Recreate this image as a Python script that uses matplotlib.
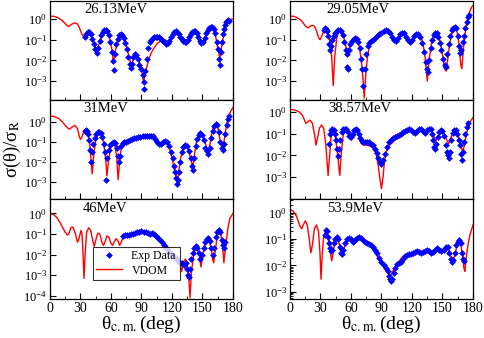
import numpy as np
import matplotlib
matplotlib.use("Agg")
import matplotlib.pyplot as plt
from matplotlib.ticker import LogLocator, MultipleLocator, LogFormatterMathtext

plt.rcParams['font.family'] = ['Liberation Serif', 'DejaVu Serif']
plt.rcParams['mathtext.fontset'] = 'stix'

# ---------------- data (theta in deg, sigma/sigma_R) ----------------
# 26.13 MeV
vdom_26 = [(0, 1.4), (4, 1.35), (8, 1.15), (12, 0.85), (15, 0.6), (17, 0.47), (19, 0.45), (21, 0.55),
           (24, 0.65), (27, 0.58), (29, 0.38), (31, 0.2), (33, 0.14), (35, 0.17), (37, 0.22), (39, 0.2),
           (41, 0.13), (43, 0.07), (45, 0.035), (46, 0.028), (47, 0.035), (49, 0.08), (51, 0.15),
           (53, 0.22), (55, 0.25), (57, 0.2), (59, 0.1), (61, 0.03), (62.5, 0.007), (64, 0.025),
           (66, 0.07), (68, 0.12), (70, 0.14), (72, 0.12), (74, 0.07), (76, 0.035), (78, 0.013),
           (80, 0.006), (82, 0.011), (84, 0.015), (86, 0.013), (88, 0.008), (90, 0.0035), (92, 0.0009),
           (94, 0.0025), (96, 0.007), (98, 0.015), (100, 0.025), (103, 0.045), (106, 0.07), (109, 0.085),
           (112, 0.08), (114, 0.065), (116, 0.06), (118, 0.08), (120, 0.14), (122, 0.22), (124, 0.25),
           (126, 0.2), (128, 0.14), (130, 0.1), (132, 0.08), (134, 0.075), (136, 0.1), (138, 0.16),
           (140, 0.24), (142, 0.27), (144, 0.22), (146, 0.14), (148, 0.08), (149.5, 0.07), (151, 0.09),
           (153, 0.16), (155, 0.28), (157, 0.38), (159, 0.4), (161, 0.3), (163, 0.14), (165, 0.04),
           (167, 0.013), (169, 0.05), (171, 0.2), (173, 0.5), (175, 0.8), (177, 0.95), (180, 1.0)]
exp_26 = [(34, 0.13), (35.5, 0.18), (37, 0.23), (38.5, 0.24), (40, 0.18), (41.5, 0.11), (43, 0.06),
          (44.5, 0.035), (46, 0.024), (47.5, 0.04), (49, 0.09), (50.5, 0.16), (52, 0.23), (53.5, 0.28),
          (55, 0.3), (56.5, 0.26), (58, 0.16), (59.5, 0.08), (61, 0.025), (62, 0.009), (62.5, 0.0035),
          (63.5, 0.02), (65, 0.06), (66.5, 0.11), (68, 0.16), (69.5, 0.18), (71, 0.17), (72.5, 0.12),
          (74, 0.07), (75.5, 0.035), (77, 0.015), (78.5, 0.007), (79.5, 0.0045), (80.5, 0.007),
          (82, 0.014), (83.5, 0.02), (85, 0.018), (86.5, 0.012), (88, 0.006), (89.5, 0.004), (91, 0.002),
          (92, 0.0009), (92.5, 0.0004), (93.5, 0.003), (95, 0.012), (96.5, 0.04), (98, 0.08), (99.5, 0.1),
          (101, 0.12), (102.5, 0.13), (104, 0.13), (105.5, 0.14), (107, 0.13), (108.5, 0.12), (110, 0.1),
          (111.5, 0.085), (113, 0.075), (114.5, 0.065), (116, 0.07), (117.5, 0.09), (119, 0.13),
          (120.5, 0.18), (122, 0.23), (123.5, 0.26), (125, 0.24), (126.5, 0.19), (128, 0.14), (129.5, 0.11),
          (131, 0.09), (132.5, 0.08), (134, 0.08), (135.5, 0.1), (137, 0.14), (138.5, 0.19), (140, 0.24),
          (141.5, 0.27), (143, 0.26), (144.5, 0.2), (146, 0.13), (147.5, 0.09), (149, 0.07), (150.5, 0.08),
          (152, 0.12), (153.5, 0.2), (155, 0.3), (156.5, 0.38), (158, 0.43), (159.5, 0.42), (161, 0.33),
          (162.5, 0.2), (164, 0.08), (165, 0.035), (166, 0.012), (167, 0.006), (168, 0.025), (169, 0.08),
          (170, 0.18), (171, 0.32), (172, 0.5), (173, 0.7), (174, 0.85), (175, 0.95), (176, 0.85)]

# 29.05 MeV
vdom_29 = [(0, 1.4), (4, 1.35), (8, 1.1), (11, 0.85), (14, 0.55), (16.5, 0.4), (18, 0.38), (20, 0.45),
           (22, 0.5), (24, 0.45), (26, 0.28), (28, 0.13), (29.5, 0.1), (31, 0.14), (33, 0.25), (35, 0.3),
           (37, 0.25), (39, 0.1), (41, 0.015), (42.5, 0.0006), (44, 0.015), (46, 0.12), (48, 0.25),
           (50, 0.28), (52, 0.2), (54, 0.08), (56, 0.025), (57, 0.02), (58, 0.03), (60, 0.08), (62, 0.12),
           (64, 0.13), (66, 0.1), (68, 0.05), (70, 0.012), (71.5, 0.002), (73, 0.00015), (74.5, 0.002),
           (76, 0.012), (78, 0.05), (80, 0.08), (82, 0.1), (85, 0.12), (88, 0.15), (91, 0.2), (94, 0.27),
           (96, 0.3), (98, 0.25), (100, 0.15), (102, 0.1), (103.5, 0.09), (105, 0.1), (108, 0.18),
           (111, 0.22), (114, 0.15), (117, 0.09), (119, 0.08), (121, 0.1), (124, 0.17), (126.5, 0.19),
           (129, 0.13), (131, 0.06), (133, 0.012), (135, 0.001), (137, 0.012), (139, 0.06), (141, 0.14),
           (143.5, 0.2), (146, 0.15), (148, 0.07), (150, 0.02), (152, 0.004), (153.5, 0.003), (155, 0.01),
           (157, 0.06), (159, 0.2), (161, 0.38), (162.5, 0.42), (164, 0.3), (166, 0.07), (168, 0.006),
           (169, 0.004), (171, 0.06), (173, 0.4), (175, 1.2), (177, 2.5), (179, 4.0), (180, 4.5)]
exp_29 = [(33, 0.3), (34, 0.36), (35.5, 0.33), (36.5, 0.25), (37.5, 0.15), (38.5, 0.06), (39.5, 0.03),
          (40.5, 0.05), (41.5, 0.1), (43, 0.15), (44.5, 0.2), (46, 0.25), (47.5, 0.28), (49, 0.3),
          (50.5, 0.26), (52, 0.17), (53.5, 0.08), (55, 0.03), (56, 0.02), (56.5, 0.005), (57, 0.004),
          (58, 0.03), (59.5, 0.06), (61, 0.09), (62.5, 0.11), (64, 0.12), (65.5, 0.11), (67, 0.08),
          (68.5, 0.04), (69.5, 0.012), (70.5, 0.004), (71.5, 0.0006), (73.5, 0.004), (75, 0.02),
          (76.5, 0.05), (78, 0.07), (80, 0.09), (82, 0.1), (84, 0.12), (86, 0.15), (88, 0.18), (90, 0.22),
          (92, 0.26), (94, 0.28), (96, 0.26), (98, 0.2), (100, 0.13), (102, 0.1), (104, 0.09), (106, 0.12),
          (108, 0.18), (110, 0.21), (112, 0.2), (114, 0.14), (116, 0.1), (118, 0.08), (120, 0.1),
          (122, 0.15), (124, 0.19), (126, 0.18), (128, 0.13), (130, 0.07), (132, 0.025), (133.5, 0.008),
          (134.5, 0.004), (135.5, 0.0028), (137, 0.01), (138.5, 0.04), (140, 0.1), (141.5, 0.16),
          (143, 0.2), (144.5, 0.2), (146, 0.14), (147.5, 0.07), (149, 0.03), (150.5, 0.012), (152, 0.006),
          (153, 0.005), (154.5, 0.02), (156, 0.06), (157.5, 0.15), (159, 0.28), (160.5, 0.38), (162, 0.42),
          (163.5, 0.35), (165, 0.15), (166, 0.05), (167, 0.022), (168.5, 0.03), (170, 0.08), (171, 0.15),
          (172.5, 0.35), (174, 0.7), (175.5, 1.2), (176.5, 1.5)]

# 31 MeV
vdom_31 = [(0, 1.9), (4, 1.8), (8, 1.5), (12, 1.0), (15, 0.65), (18, 0.45), (19.5, 0.43), (22, 0.55),
           (24.5, 0.65), (27, 0.45), (29, 0.17), (30, 0.13), (31.5, 0.18), (33.5, 0.35), (35, 0.4),
           (37, 0.3), (39, 0.08), (40.5, 0.01), (41.5, 0.0025), (43, 0.02), (45, 0.12), (47, 0.25),
           (49, 0.3), (51, 0.22), (53, 0.07), (55, 0.01), (56, 0.002), (57.5, 0.01), (59.5, 0.05),
           (61.5, 0.085), (63.5, 0.075), (65.5, 0.02), (67, 0.0013), (68.5, 0.01), (70, 0.05), (72, 0.09),
           (75, 0.11), (78, 0.12), (82, 0.14), (86, 0.16), (90, 0.19), (94, 0.2), (98, 0.21), (100, 0.22),
           (102, 0.19), (104, 0.13), (106, 0.08), (108, 0.065), (110, 0.08), (112, 0.11), (114, 0.11),
           (116, 0.08), (118, 0.04), (120, 0.015), (122, 0.005), (124, 0.0018), (125.5, 0.0011),
           (127, 0.005), (129, 0.02), (131, 0.045), (133, 0.06), (135, 0.055), (137, 0.03), (139, 0.01),
           (140.5, 0.006), (142, 0.02), (144, 0.1), (146, 0.22), (148, 0.26), (150, 0.22), (152, 0.12),
           (154, 0.05), (155.5, 0.03), (157, 0.06), (159, 0.25), (161, 0.6), (163, 0.8), (165, 0.55),
           (167, 0.15), (169, 0.05), (170, 0.045), (172, 0.2), (174, 0.9), (176, 2.0), (178, 3.5), (180, 5.0)]
exp_31 = [(34, 0.35), (35, 0.4), (36.5, 0.35), (37.5, 0.25), (38.5, 0.12), (39.5, 0.04), (40.5, 0.01),
          (41.5, 0.03), (42.5, 0.08), (44, 0.16), (45.5, 0.24), (47, 0.3), (48.5, 0.31), (50, 0.27),
          (51.5, 0.18), (53, 0.08), (54, 0.03), (55, 0.0012), (56.5, 0.015), (58, 0.04), (59.5, 0.07),
          (61, 0.09), (62.5, 0.1), (64, 0.09), (65.5, 0.05), (66.5, 0.02), (67.5, 0.01), (68.5, 0.02),
          (70, 0.06), (71.5, 0.09), (73, 0.1), (75, 0.1), (77, 0.11), (79, 0.12), (81, 0.13), (83, 0.15),
          (85, 0.16), (87, 0.17), (89, 0.18), (91, 0.19), (93, 0.2), (95, 0.2), (97, 0.19), (99, 0.2),
          (101, 0.19), (103, 0.14), (105, 0.1), (107, 0.08), (109, 0.08), (111, 0.1), (113, 0.11),
          (115, 0.1), (117, 0.06), (119, 0.03), (120.5, 0.015), (122, 0.006), (123, 0.003), (124, 0.0015),
          (124.8, 0.0008), (125.5, 0.0012), (126.5, 0.003), (128, 0.01), (129.5, 0.03), (131, 0.055),
          (133, 0.065), (135, 0.06), (137, 0.035), (138.5, 0.015), (140, 0.006), (141, 0.004),
          (142, 0.015), (143.5, 0.06), (145, 0.14), (146.5, 0.22), (148, 0.26), (149.5, 0.22), (151, 0.12),
          (152.5, 0.05), (154, 0.035), (155.5, 0.025), (157, 0.05), (158.5, 0.15), (160, 0.35),
          (161.5, 0.6), (163, 0.75), (164.5, 0.65), (166, 0.3), (167.5, 0.1), (169, 0.05), (170, 0.04),
          (171, 0.08), (172.5, 0.25), (174, 0.7), (175.5, 1.4), (176.5, 2.0)]

# 38.57 MeV
vdom_38 = [(0, 1.3), (5, 1.2), (9, 1.0), (12, 0.7), (14, 0.45), (15.5, 0.3), (17, 0.33), (19.5, 0.42),
           (22, 0.3), (24, 0.1), (25.5, 0.03), (27, 0.06), (29, 0.18), (31, 0.25), (33, 0.18), (35, 0.04),
           (36.5, 0.005), (37.5, 0.0012), (39, 0.01), (40.5, 0.08), (42.5, 0.14), (44.5, 0.08),
           (46.5, 0.015), (48, 0.003), (49, 0.0012), (50.5, 0.015), (52.5, 0.1), (55, 0.16), (57.5, 0.1),
           (60, 0.05), (62.5, 0.1), (65, 0.16), (67.5, 0.09), (70, 0.035), (72.5, 0.03), (75, 0.03),
           (77.5, 0.028), (80, 0.025), (82.5, 0.02), (85, 0.01), (87, 0.003), (88.5, 0.0008), (90, 0.0003),
           (91.5, 0.001), (93, 0.006), (95, 0.016), (98, 0.03), (101, 0.04), (104, 0.06), (107, 0.08),
           (110, 0.1), (113, 0.11), (116, 0.13), (118.5, 0.14), (121, 0.11), (123.5, 0.09), (126, 0.12),
           (128.5, 0.14), (131, 0.1), (133.5, 0.09), (136, 0.13), (138.5, 0.14), (141, 0.08), (143.5, 0.05),
           (146, 0.08), (148.5, 0.14), (151, 0.12), (153.5, 0.06), (156, 0.035), (158.5, 0.07), (161, 0.13),
           (163, 0.14), (165.5, 0.08), (168, 0.03), (170, 0.014), (172, 0.04), (174, 0.12), (176, 0.25),
           (178, 0.4), (180, 0.55)]
exp_38 = [(38, 0.035), (39, 0.1), (40, 0.14), (41.5, 0.16), (43, 0.15), (44.5, 0.1), (45.5, 0.05),
          (46.5, 0.02), (47.5, 0.009), (48.5, 0.02), (49.5, 0.05), (51, 0.12), (52.5, 0.16), (54, 0.17),
          (55.5, 0.16), (57, 0.12), (58.5, 0.08), (60, 0.07), (61.5, 0.1), (63, 0.14), (64.5, 0.16),
          (66, 0.14), (67.5, 0.1), (69, 0.06), (70.5, 0.045), (72, 0.04), (74, 0.04), (76, 0.04),
          (78, 0.04), (80, 0.035), (82, 0.03), (84, 0.02), (85.5, 0.013), (87, 0.008), (88.5, 0.005),
          (90, 0.004), (91.5, 0.006), (93, 0.012), (95, 0.025), (97, 0.04), (99, 0.05), (101, 0.06),
          (103, 0.07), (105, 0.08), (107, 0.09), (109, 0.1), (111, 0.12), (113, 0.13), (115, 0.15),
          (117, 0.17), (119, 0.15), (121, 0.12), (123, 0.11), (125, 0.13), (127, 0.16), (129, 0.17),
          (131, 0.13), (133, 0.11), (135, 0.14), (137, 0.17), (138.5, 0.16), (140, 0.1), (141, 0.05),
          (142, 0.025), (143, 0.02), (144, 0.035), (145.5, 0.07), (147, 0.12), (148.5, 0.15), (150, 0.13),
          (151.5, 0.08), (153, 0.03), (154, 0.015), (155, 0.01), (156, 0.008), (157, 0.015), (158.5, 0.05),
          (160, 0.11), (161.5, 0.14), (163, 0.14), (164.5, 0.1), (166, 0.05), (167, 0.03), (168, 0.012),
          (169, 0.006), (170, 0.015), (171, 0.04), (172.5, 0.1), (174, 0.2), (175.5, 0.3)]

# 46 MeV
vdom_46 = [(0, 1.0), (4, 0.85), (7, 0.6), (10, 0.35), (12.5, 0.2), (15, 0.12), (17, 0.09), (18.5, 0.1),
           (20.5, 0.2), (22.5, 0.22), (25, 0.1), (27, 0.04), (28.5, 0.06), (30.5, 0.15), (31.5, 0.1),
           (32.5, 0.01), (33.5, 0.0007), (34.5, 0.01), (36, 0.12), (38, 0.2), (40, 0.15), (42, 0.05),
           (43.5, 0.025), (45, 0.05), (47, 0.11), (49, 0.1), (51, 0.04), (52.5, 0.028), (54, 0.04),
           (56, 0.08), (58, 0.07), (60, 0.035), (61.5, 0.028), (63, 0.04), (65, 0.06), (67, 0.045),
           (68.5, 0.028), (70, 0.04), (72, 0.07), (75, 0.085), (80, 0.1), (85, 0.12), (90, 0.13),
           (95, 0.12), (100, 0.1), (103, 0.09), (106, 0.07), (110, 0.05), (114, 0.03), (117, 0.02),
           (120, 0.013), (123, 0.009), (126, 0.006), (128, 0.003), (129.5, 0.0015), (131, 0.004),
           (133, 0.006), (135, 0.003), (136.5, 0.0008), (137.7, 0.00008), (139, 0.0012), (141, 0.008),
           (143, 0.02), (145, 0.02), (147, 0.008), (148.5, 0.0025), (150, 0.008), (152, 0.03),
           (154.5, 0.06), (156.5, 0.05), (158.5, 0.02), (160, 0.006), (161, 0.004), (162.5, 0.015),
           (164.5, 0.08), (166, 0.13), (168, 0.1), (170, 0.02), (171, 0.004), (172.5, 0.02), (175, 0.2),
           (177, 0.6), (180, 1.0)]
exp_46 = [(72, 0.08), (74, 0.085), (76, 0.09), (78, 0.09), (80, 0.1), (82, 0.1), (84, 0.11), (86, 0.12),
          (88, 0.13), (90, 0.14), (92, 0.13), (94, 0.12), (96, 0.11), (98, 0.1), (100, 0.11), (102, 0.1),
          (104, 0.08), (106, 0.065), (108, 0.05), (110, 0.04), (112, 0.03), (114, 0.02), (116, 0.015),
          (118, 0.012), (120, 0.01), (122, 0.008), (124, 0.007), (126, 0.005), (128, 0.004), (130, 0.004),
          (132, 0.003), (133.5, 0.004), (135, 0.002), (136, 0.001), (137, 0.0008), (138, 0.002),
          (139, 0.006), (140.5, 0.012), (142, 0.02), (143.5, 0.025), (145, 0.022), (146.5, 0.012),
          (148, 0.006), (149.5, 0.01), (151, 0.02), (152.5, 0.04), (154, 0.06), (155.5, 0.065),
          (157, 0.045), (158.5, 0.02), (160, 0.01), (161.5, 0.02), (163, 0.07), (164.5, 0.13), (166, 0.16),
          (167.5, 0.12), (169, 0.05), (170, 0.03), (171, 0.02), (172, 0.04)]

# 53.9 MeV
vdom_53 = [(0, 1.3), (3, 1.2), (6, 0.8), (8, 0.5), (10, 0.3), (11.5, 0.25), (13, 0.35), (15, 0.5),
           (17, 0.35), (19, 0.1), (20.5, 0.03), (22, 0.06), (24, 0.25), (26, 0.35), (28, 0.2), (29.5, 0.03),
           (30.5, 0.003), (31.5, 0.02), (33, 0.12), (35, 0.2), (37, 0.15), (39, 0.05), (41, 0.015),
           (42.5, 0.03), (44, 0.08), (46, 0.11), (48, 0.08), (50, 0.03), (51.5, 0.025), (53, 0.04),
           (55, 0.08), (58, 0.12), (61, 0.09), (63, 0.07), (65, 0.09), (68, 0.12), (71, 0.1), (74, 0.08),
           (77, 0.07), (80, 0.05), (83, 0.035), (86, 0.022), (89, 0.014), (92, 0.009), (95, 0.006),
           (97, 0.0045), (98.5, 0.004), (100, 0.005), (102, 0.007), (104, 0.01), (107, 0.014), (110, 0.02),
           (113, 0.025), (116, 0.028), (119, 0.03), (122, 0.03), (125, 0.033), (128, 0.03), (131, 0.033),
           (134, 0.04), (137, 0.035), (140, 0.032), (143, 0.04), (146, 0.045), (149, 0.04), (152, 0.045),
           (155, 0.05), (157, 0.03), (159, 0.018), (160.5, 0.015), (162, 0.025), (164, 0.05), (166, 0.07),
           (168, 0.06), (170, 0.02), (171, 0.008), (172, 0.006), (173, 0.015), (175, 0.06), (177, 0.15),
           (180, 0.35)]
exp_53 = [(34, 0.15), (35, 0.22), (36, 0.2), (37, 0.12), (38, 0.07), (39, 0.045), (40, 0.035),
          (41.5, 0.04), (43, 0.07), (44.5, 0.1), (46, 0.12), (47.5, 0.1), (49, 0.05), (50, 0.03),
          (51, 0.028), (52.5, 0.04), (54, 0.07), (56, 0.1), (58, 0.11), (60, 0.1), (62, 0.08), (64, 0.09),
          (66, 0.11), (68, 0.12), (70, 0.11), (72, 0.09), (74, 0.08), (76, 0.07), (78, 0.065), (80, 0.06),
          (82, 0.05), (84, 0.04), (86, 0.03), (88, 0.02), (90, 0.014), (92, 0.01), (94, 0.008),
          (96, 0.006), (97.5, 0.004), (98.5, 0.003), (99.5, 0.0025), (100.5, 0.003), (102, 0.005),
          (103.5, 0.008), (105, 0.011), (107, 0.012), (109, 0.014), (111, 0.018), (113, 0.022),
          (115, 0.025), (117, 0.027), (119, 0.028), (121, 0.03), (123, 0.032), (125, 0.035), (127, 0.032),
          (129, 0.03), (131, 0.032), (133, 0.035), (135, 0.038), (137, 0.035), (139, 0.03), (141, 0.032),
          (143, 0.04), (145, 0.045), (147, 0.04), (149, 0.035), (151, 0.04), (153, 0.05), (155, 0.05),
          (156.5, 0.03), (158, 0.018), (159, 0.014), (160.5, 0.016), (162, 0.03), (163.5, 0.06),
          (165, 0.08), (166.5, 0.09), (168, 0.07), (169, 0.03), (170, 0.018), (171, 0.015)]

energy_labels = ['26.13MeV', '29.05MeV', '31MeV', '38.57MeV', '46MeV', '53.9MeV']
y_limits = [(1.2e-4, 7.5), (1.2e-4, 7.5), (1.4e-4, 12), (1e-4, 3.5), (7e-5, 5), (5.3e-4, 3.4)]
y_tick_values = [[1e-3, 1e-2, 1e-1, 1], [1e-3, 1e-2, 1e-1, 1], [1e-3, 1e-2, 1e-1, 1],
                 [1e-3, 1e-2, 1e-1, 1], [1e-4, 1e-3, 1e-2, 1e-1, 1], [1e-3, 1e-2, 1e-1, 1]]
x_ticks = [0, 30, 60, 90, 120, 150, 180]

curves = [vdom_26, vdom_29, vdom_31, vdom_38, vdom_46, vdom_53]
points = [exp_26, exp_29, exp_31, exp_38, exp_46, exp_53]

# ---------------- layout (pixel boxes from the reference) ----------------
W, H = 485, 338
fig = plt.figure(figsize=(W / 100, H / 100), dpi=100)
col_left = [50, 290]
row_box = [(1, 100), (100, 199), (199, 299)]   # top, bottom in px
label_x = [0.19, 0.20, 0.18, 0.21, 0.18, 0.20]

axes = []
for i in range(6):
    r, c = i // 2, i % 2
    top, bot = row_box[r]
    ax = fig.add_axes([col_left[c] / W, (H - bot) / H, 183 / W, (bot - top) / H])
    axes.append(ax)

    th, val = np.array(curves[i]).T
    ax.plot(th, val, color='red', lw=1.0, label='VDOM', zorder=2)
    eth, evl = np.array(points[i]).T
    ax.plot(eth, evl, ls='none', marker='D', ms=3.0, color='blue', mec='blue', mew=0.4,
            label='Exp Data', zorder=3)

    ax.set_yscale('log')
    ax.set_xlim(0, 180)
    ax.set_ylim(*y_limits[i])
    ax.set_yticks(y_tick_values[i])
    ax.yaxis.set_major_formatter(LogFormatterMathtext())
    ax.yaxis.set_minor_locator(LogLocator(base=10, subs=np.arange(2, 10)))
    ax.yaxis.set_minor_formatter(plt.NullFormatter())
    ax.set_xticks(x_ticks)
    ax.xaxis.set_minor_locator(MultipleLocator(15))
    ax.tick_params(which='both', direction='in', top=False, right=False, pad=2)
    ax.tick_params(axis='y', labelsize=9)
    ax.tick_params(axis='x', labelsize=10)
    ax.tick_params(which='major', length=4, width=0.8)
    ax.tick_params(which='minor', length=2, width=0.6)
    for s in ax.spines.values():
        s.set_linewidth(0.9)
    if r < 2:
        ax.set_xticklabels([])
    else:
        ax.set_xlabel('θ$_{\\rm c.m.}$(deg)', fontsize=14, labelpad=-1)

    ax.text(label_x[i], 0.975, energy_labels[i], transform=ax.transAxes, ha='left', va='top',
            fontsize=10.5)

leg = axes[4].legend(handles=axes[4].lines[::-1], loc='lower left', bbox_to_anchor=(0.2, 0.13),
                     fontsize=8.5, frameon=True, fancybox=False, edgecolor='black',
                     handlelength=2.2, borderpad=0.3, labelspacing=0.2, numpoints=1)
leg.get_frame().set_linewidth(0.8)

fig.text(0.026, 0.56, 'σ(θ)/σ$_{\\rm R}$', rotation=90, ha='center', va='center', fontsize=13.5)

fig.savefig('out.png', dpi=100)
